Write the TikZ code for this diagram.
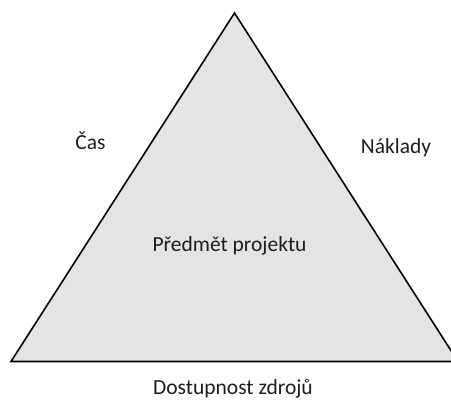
\documentclass[tikz,border=0pt]{standalone}
\usepackage{fontspec}
\setmainfont{Carlito}
\definecolor{trifill}{RGB}{228,228,228}
\definecolor{txt}{RGB}{30,30,30}
\begin{document}
\begin{tikzpicture}[x=1pt,y=-1pt,
  lbl/.style={font=\fontsize{21.5}{25}\selectfont, text=txt, inner sep=0pt, anchor=base},
  tri/.style={draw=black, fill=trifill, line width=1.6pt, line join=miter}]
\useasboundingbox (0,0) rectangle (451,400);
\clip (0,0) rectangle (451,400);
\coordinate (apex) at (234.5,13);
\coordinate (bl) at (11,361.5);
\coordinate (br) at (458,361.5);
\draw[tri] (apex) -- (br) -- (bl) -- cycle;
\node[lbl] (cas) at (90.5,149.3) {Čas};
\node[lbl] (naklady) at (396,153.3) {Náklady};
\node[lbl] (predmet) at (229.5,251.7) {Předmět projektu};
\node[lbl] (zdroje) at (233,394) {Dostupnost zdrojů};
\end{tikzpicture}
\end{document}
